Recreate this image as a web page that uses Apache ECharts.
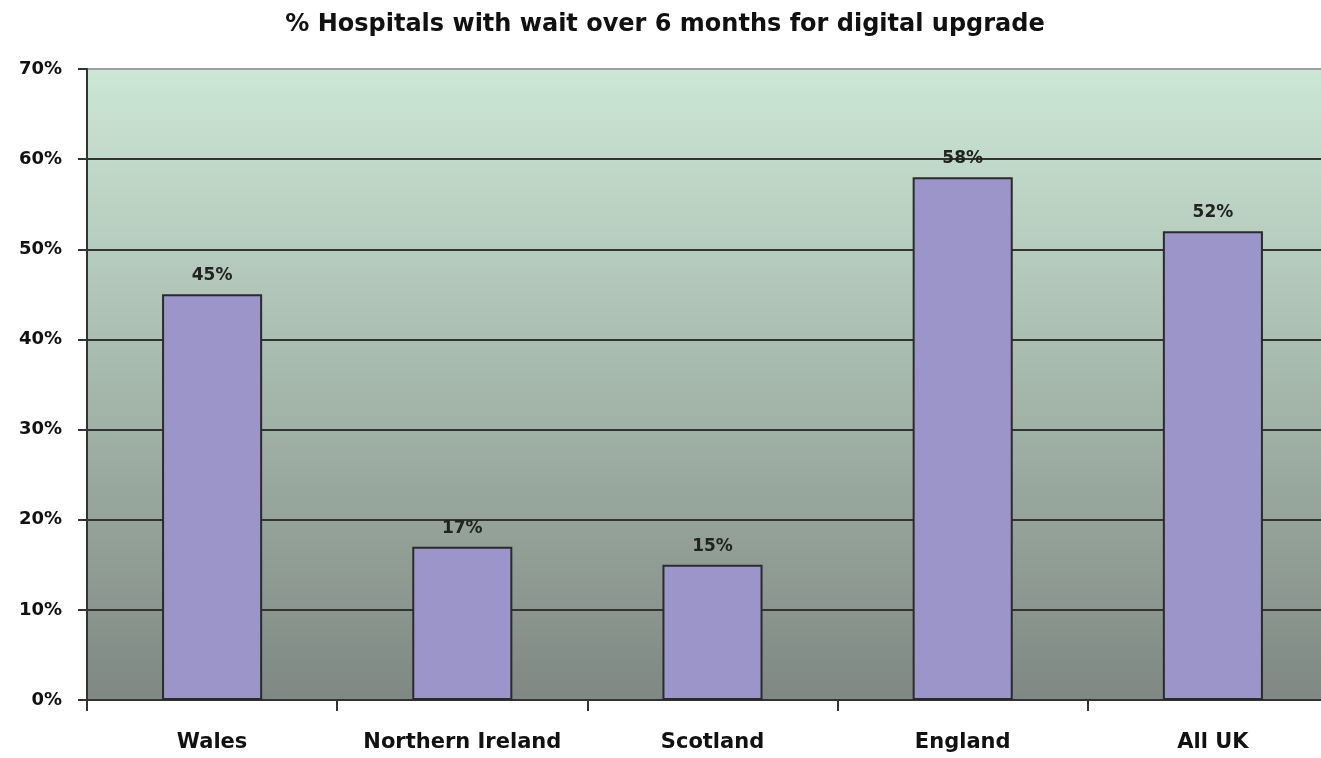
<!DOCTYPE html>
<html><head><meta charset="utf-8">
<script src="https://cdn.jsdelivr.net/npm/echarts@6/dist/echarts.min.js"></script>
<style>html,body{margin:0;padding:0;background:#fff}#c{width:1321px;height:758px}</style>
</head><body><div id="c"></div>
<script>
const categories = ['Wales', 'Northern Ireland', 'Scotland', 'England', 'All UK'];
const values = [45, 17, 15, 58, 52];
const yTicks = [0, 10, 20, 30, 40, 50, 60, 70];

const chart = echarts.init(document.getElementById('c'));
const font = 'DejaVu Sans';
chart.setOption({
  animation: false,
  title: {
    text: '% Hospitals with wait over 6 months for digital upgrade',
    left: 660, textAlign: 'center', top: 8,
    textStyle: { fontFamily: font, fontWeight: 'bold', fontSize: 24, color: '#111' }
  },
  grid: {
    left: 87, width: 1251, top: 69, height: 631, show: true, borderWidth: 0,
    outerBoundsMode: 'none', containLabel: false,
    backgroundColor: {
      type: 'linear', x: 0, y: 0, x2: 0, y2: 1,
      colorStops: [{ offset: 0, color: '#cce7d5' }, { offset: 1, color: '#7f8883' }]
    }
  },
  xAxis: {
    type: 'category', data: categories,
    axisLine: { show: true, lineStyle: { color: '#333', width: 2 } },
    axisTick: { show: true, interval: 0, length: 11, lineStyle: { color: '#333', width: 2 } },
    axisLabel: { interval: 0, fontFamily: font, fontWeight: 'bold', fontSize: 21, color: '#111', margin: 32 }
  },
  yAxis: {
    type: 'value', min: yTicks[0], max: yTicks[yTicks.length - 1], interval: 10,
    axisLine: { show: true, lineStyle: { color: '#333', width: 2 } },
    axisTick: { show: true, length: 9, lineStyle: { color: '#333', width: 2 } },
    axisLabel: { fontFamily: font, fontWeight: 'bold', fontSize: 18, color: '#111', margin: 25, formatter: v => v + '%' },
    splitLine: { show: true, lineStyle: { color: ['#333', '#333', '#333', '#333', '#333', '#333', '#333', '#a0a0a0'], width: 2 } }
  },
  series: [{
    type: 'bar', data: values, barWidth: '40%',
    itemStyle: { color: '#9b95c9', borderColor: '#2b2b2b', borderWidth: 2 },
    label: { show: true, position: 'top', distance: 10, fontFamily: font, fontWeight: 'bold', fontSize: 17, color: '#222', formatter: p => p.value + '%' }
  }]
});
</script></body></html>
